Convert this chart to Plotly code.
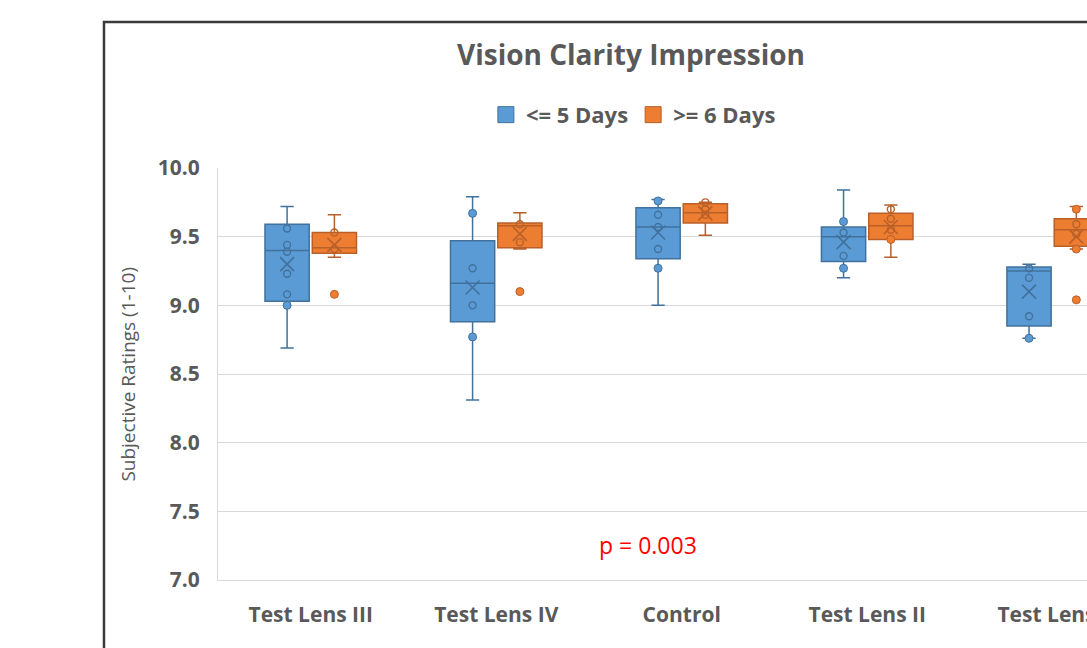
import plotly.graph_objects as go

## data
categories = ["Test Lens III", "Test Lens IV", "Control", "Test Lens II", "Test Lens I"]
series_names = ["<= 5 Days", ">= 6 Days"]

# <= 5 days
le5_q1 = [9.03, 8.88, 9.34, 9.32, 8.85]
le5_median = [9.40, 9.16, 9.57, 9.50, 9.25]
le5_q3 = [9.59, 9.47, 9.71, 9.57, 9.28]
le5_low = [8.69, 8.31, 9.00, 9.20, 8.76]
le5_high = [9.72, 9.79, 9.77, 9.84, 9.30]
le5_mean = [9.30, 9.13, 9.53, 9.46, 9.10]
le5_inner = [
    [9.56, 9.44, 9.39, 9.23, 9.08],
    [9.27, 9.00],
    [9.66, 9.57, 9.41],
    [9.53, 9.36],
    [9.27, 9.20, 8.92],
]
le5_dots = [[9.00], [9.67, 8.77], [9.76, 9.27], [9.61, 9.27], [8.76]]

# >= 6 days
ge6_q1 = [9.38, 9.42, 9.60, 9.48, 9.43]
ge6_median = [9.42, 9.58, 9.675, 9.58, 9.55]
ge6_q3 = [9.53, 9.60, 9.74, 9.67, 9.63]
ge6_low = [9.35, 9.41, 9.51, 9.35, 9.41]
ge6_high = [9.66, 9.675, 9.75, 9.73, 9.72]
ge6_mean = [9.44, 9.52, 9.67, 9.57, 9.50]
ge6_inner = [[9.53, 9.41], [9.59, 9.46], [9.75, 9.70, 9.66], [9.70, 9.63, 9.55], [9.59, 9.52]]
ge6_dots = [[9.08], [9.10], [], [9.48], [9.70, 9.41, 9.04]]

# colours
blue, blue_dark = "#5B9BD5", "#41719C"
orange, orange_dark = "#ED7D31", "#B9602A"
grey_text = "#595959"
font_family = "'Open Sans', Lato, sans-serif"


def flatten(cats, lists):
    xs, ys = [], []
    for c, vals in zip(cats, lists):
        for v in vals:
            xs.append(c)
            ys.append(v)
    return xs, ys


fig = go.Figure()

groups = [
    ("le5", series_names[0], blue, blue_dark, le5_q1, le5_median, le5_q3, le5_low, le5_high, le5_mean, le5_inner, le5_dots),
    ("ge6", series_names[1], orange, orange_dark, ge6_q1, ge6_median, ge6_q3, ge6_low, ge6_high, ge6_mean, ge6_inner, ge6_dots),
]

for key, name, fill, edge, q1, med, q3, lo, hi, mean, inner, dots in groups:
    fig.add_trace(go.Box(
        x=categories, q1=q1, median=med, q3=q3, lowerfence=lo, upperfence=hi,
        name=name, offsetgroup=key, showlegend=False,
        fillcolor=fill, line=dict(color=edge, width=1.5),
        whiskerwidth=0.3, boxpoints=False,
    ))
    # mean markers (X)
    fig.add_trace(go.Scatter(
        x=categories, y=mean, mode="markers", offsetgroup=key, showlegend=False,
        marker=dict(symbol="x-thin-open", size=14, color=edge, line=dict(width=1.6, color=edge)),
    ))
    # inner points (hollow)
    xs, ys = flatten(categories, inner)
    fig.add_trace(go.Scatter(
        x=xs, y=ys, mode="markers", offsetgroup=key, showlegend=False,
        marker=dict(symbol="circle-open", size=7, color=edge, line=dict(width=1.4, color=edge)),
    ))
    # filled points
    xs, ys = flatten(categories, dots)
    fig.add_trace(go.Scatter(
        x=xs, y=ys, mode="markers", offsetgroup=key, showlegend=False,
        marker=dict(symbol="circle", size=8, color=fill, line=dict(width=1, color=edge)),
    ))
    # legend entry
    fig.add_trace(go.Scatter(
        x=[None], y=[None], mode="markers", name=name,
        marker=dict(symbol="square", size=17, color=fill, line=dict(width=1, color=edge)),
    ))

fig.update_xaxes(
    type="category",
    categoryorder="array",
    categoryarray=categories,
    range=[-0.5, 4.185],
    automargin=False,
    showgrid=False,
    showline=True,
    linecolor="#D9D9D9",
    linewidth=1,
    ticks="outside",
    ticklen=16,
    tickcolor="rgba(0,0,0,0)",
    tickfont=dict(family=font_family, size=21, color=grey_text, weight="bold"),
)
fig.update_yaxes(
    range=[7, 10],
    dtick=0.5,
    tickformat=".1f",
    automargin=False,
    showgrid=True,
    gridcolor="#D9D9D9",
    gridwidth=1,
    zeroline=False,
    showline=True,
    linecolor="#D9D9D9",
    ticks="outside",
    ticklen=13,
    tickcolor="rgba(0,0,0,0)",
    tickfont=dict(family=font_family, size=21, color=grey_text, weight="bold"),
)

fig.update_layout(
    width=1087,
    height=648,
    margin=dict(l=218, r=0, t=168, b=68),
    paper_bgcolor="white",
    plot_bgcolor="white",
    boxmode="group",
    boxgap=0.49,
    boxgroupgap=0.065,
    scattermode="group",
    scattergap=0.49,
    showlegend=True,
    legend=dict(
        orientation="h",
        x=0.478,
        xanchor="center",
        y=1.129,
        yanchor="middle",
        font=dict(family=font_family, size=22, color=grey_text, weight="bold"),
        itemwidth=30,
        bgcolor="rgba(0,0,0,0)",
    ),
    font=dict(family=font_family),
)

# title
fig.add_annotation(
    text="Vision Clarity Impression",
    xref="paper", yref="paper", x=0.475, y=1.277,
    xanchor="center", yanchor="middle", showarrow=False,
    font=dict(family=font_family, size=28, color=grey_text, weight="bold"),
)
# y axis title
fig.add_annotation(
    text="Subjective Ratings (1-10)",
    xref="paper", yref="paper", x=-0.104, y=0.5,
    xanchor="center", yanchor="middle", showarrow=False, textangle=-90,
    font=dict(family=font_family, size=19, color=grey_text),
)
# p value
fig.add_annotation(
    text="p = 0.003",
    xref="paper", yref="paper", x=0.495, y=0.085,
    xanchor="center", yanchor="middle", showarrow=False,
    font=dict(family=font_family, size=23, color="red"),
)
# chart frame
fig.add_shape(
    type="rect", xref="paper", yref="paper",
    x0=-0.1312, x1=1.3, y0=-0.4, y1=1.3544,
    line=dict(color="#3A3A3A", width=2.5),
    fillcolor="rgba(0,0,0,0)", layer="above",
)

# drop the default 8px page margin so the figure sits at the window corner
fig.write_html(
    "out.html",
    config={"displayModeBar": False},
    post_script="document.body.style.margin='0px';",
)
